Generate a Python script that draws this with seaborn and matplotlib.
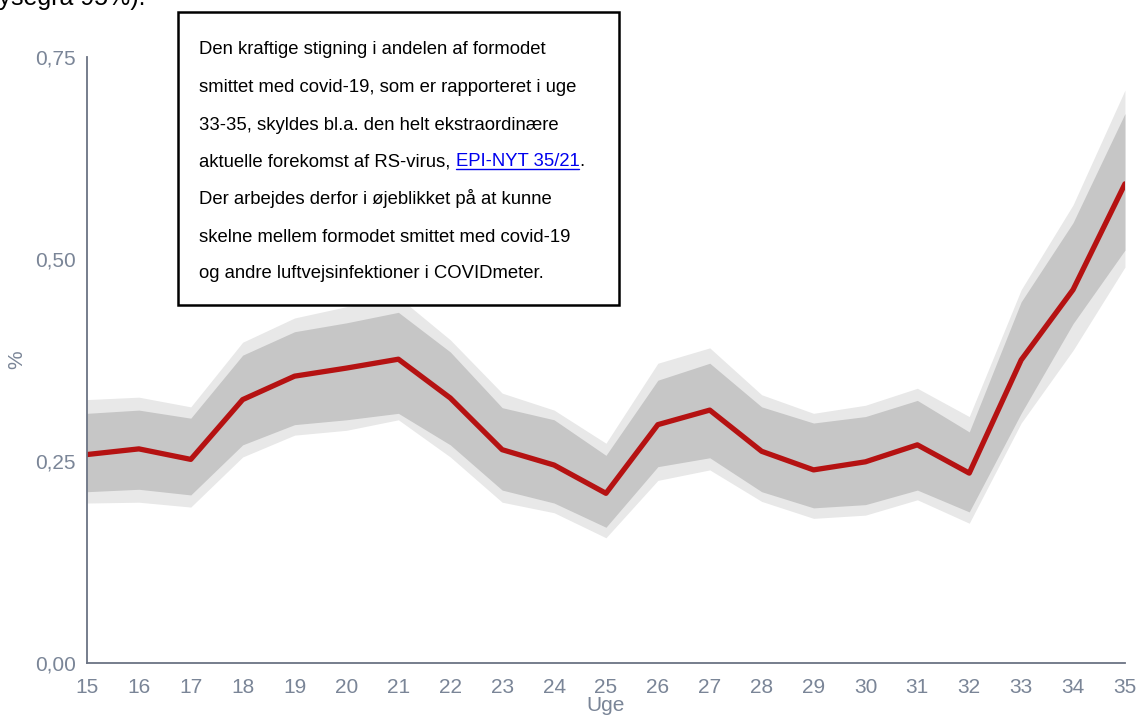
import numpy as np
import pandas as pd
import matplotlib.pyplot as plt
import seaborn as sns
from matplotlib.patches import Rectangle
from matplotlib.lines import Line2D

# Data
uger = [15, 16, 17, 18, 19, 20, 21, 22, 23, 24, 25, 26, 27, 28, 29, 30, 31, 32, 33, 34, 35]
andel = [0.258, 0.265, 0.252, 0.326, 0.355, 0.365, 0.376, 0.328, 0.264, 0.245, 0.210,
         0.295, 0.313, 0.262, 0.239, 0.249, 0.270, 0.235, 0.375, 0.462, 0.593]
# 80% interval (mørkegrå)
ki80_lav = [0.212, 0.215, 0.208, 0.270, 0.295, 0.301, 0.309, 0.270, 0.214, 0.198, 0.168,
            0.243, 0.254, 0.212, 0.192, 0.196, 0.214, 0.187, 0.309, 0.420, 0.511]
ki80_hoj = [0.309, 0.313, 0.303, 0.381, 0.410, 0.421, 0.434, 0.385, 0.316, 0.301, 0.257,
            0.350, 0.371, 0.317, 0.297, 0.305, 0.325, 0.286, 0.447, 0.545, 0.680]
# 95% interval (lysegrå)
ki95_lav = [0.198, 0.199, 0.193, 0.255, 0.282, 0.288, 0.301, 0.255, 0.199, 0.186, 0.155,
            0.226, 0.239, 0.200, 0.179, 0.183, 0.202, 0.173, 0.297, 0.387, 0.490]
ki95_hoj = [0.326, 0.329, 0.317, 0.397, 0.427, 0.441, 0.453, 0.400, 0.334, 0.313, 0.272,
            0.371, 0.390, 0.332, 0.309, 0.319, 0.340, 0.305, 0.462, 0.567, 0.709]

yticks = [0.0, 0.25, 0.50, 0.75]
ytick_labels = ["0,00", "0,25", "0,50", "0,75"]

df = pd.DataFrame({"Uge": uger, "andel": andel})

sns.set_style("white")
plt.rcParams['font.family'] = ['Liberation Sans', 'DejaVu Sans']

akse_farve = "#6b7383"
tekst_farve = "#7a8597"

fig = plt.figure(figsize=(11.37, 7.18), dpi=100)
ax = fig.add_axes([0.0765, 0.0766, 0.9129, 0.844])

ax.fill_between(uger, ki95_lav, ki95_hoj, color="#e8e8e8", lw=0)
ax.fill_between(uger, ki80_lav, ki80_hoj, color="#c6c6c6", lw=0)
sns.lineplot(data=df, x="Uge", y="andel", ax=ax, color="#b51212", lw=3.8)

ax.set_xlim(15, 35)
ax.set_ylim(0, 0.75)
ax.set_xticks(uger)
ax.set_yticks(yticks)
ax.set_yticklabels(ytick_labels)
ax.tick_params(axis="both", colors=akse_farve, labelcolor=tekst_farve,
               labelsize=15, length=5, width=1.2, direction="out")
ax.tick_params(axis="x", pad=6)
ax.tick_params(axis="y", pad=3)
for s in ["top", "right"]:
    ax.spines[s].set_visible(False)
for s in ["left", "bottom"]:
    ax.spines[s].set_color(akse_farve)
    ax.spines[s].set_linewidth(1.3)
ax.set_xlabel("Uge", fontsize=15, color=tekst_farve, labelpad=-1)
ax.set_ylabel("%", fontsize=15, color=tekst_farve, labelpad=6)

# afskåret tekst øverst
fig.text(-0.006, 1 - 5 / 718, "lysegrå 95%).", fontsize=18, color="black",
         va="baseline", ha="left")

# tekstboks
W, H = 1137, 718
fig.patches.append(Rectangle((178 / W, 1 - 305 / H), (619 - 178) / W, (305 - 12) / H,
                             transform=fig.transFigure, facecolor="white",
                             edgecolor="black", lw=1.8, zorder=5))
linjer = [
    "Den kraftige stigning i andelen af formodet",
    "smittet med covid-19, som er rapporteret i uge",
    "33-35, skyldes bl.a. den helt ekstraordinære",
    None,
    "Der arbejdes derfor i øjeblikket på at kunne",
    "skelne mellem formodet smittet med covid-19",
    "og andre luftvejsinfektioner i COVIDmeter.",
]
y_pix = [50, 87, 125, 162, 199, 237, 274]
fs = 13.3
renderer = fig.canvas.get_renderer()
for tekst, yp in zip(linjer, y_pix):
    y = 1 - yp / H
    if tekst is not None:
        fig.text(199 / W, y, tekst, fontsize=fs, va="center", ha="left",
                 color="black", zorder=6)
    else:
        t1 = fig.text(199 / W, y, "aktuelle forekomst af RS-virus, ", fontsize=fs,
                      va="center", ha="left", color="black", zorder=6)
        bb1 = t1.get_window_extent(renderer)
        x2 = bb1.x1 / W
        t2 = fig.text(x2, y, "EPI-NYT 35/21", fontsize=fs, va="center", ha="left",
                      color="#0000ee", zorder=6)
        bb2 = t2.get_window_extent(renderer)
        fig.lines.append(Line2D([bb2.x0 / W, bb2.x1 / W], [bb2.y0 / H + 0.002] * 2,
                                transform=fig.transFigure, color="#0000ee", lw=1, zorder=6))
        fig.text(bb2.x1 / W, y, ".", fontsize=fs, va="center", ha="left",
                 color="black", zorder=6)

fig.savefig("out.png", dpi=100)
